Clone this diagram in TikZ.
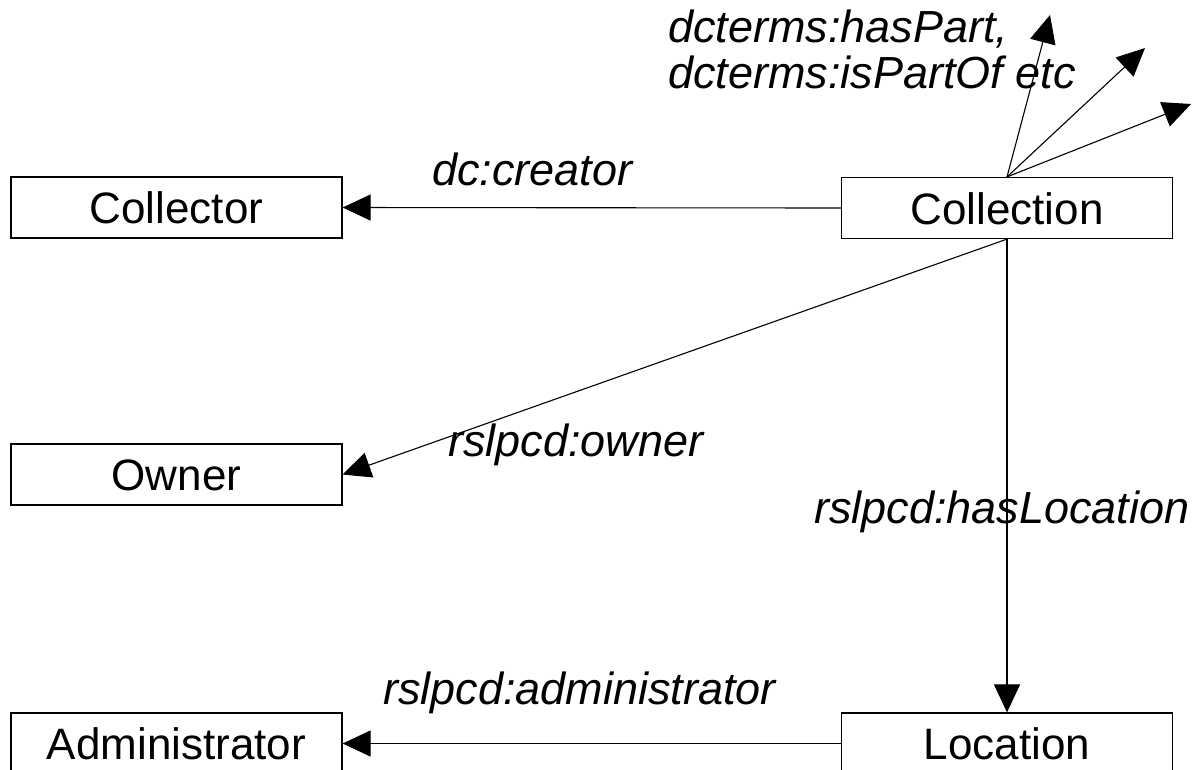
\documentclass[tikz,border=0pt]{standalone}
\usepackage{fontspec}
\setmainfont{Liberation Sans}
\usetikzlibrary{arrows.meta}
\begin{document}
\begin{tikzpicture}[x=1pt,y=-1pt,
  entity/.style={draw, line width=1.2pt, minimum width=331pt, minimum height=61pt,
    inner sep=0pt, text height=32pt, text depth=0pt, font=\fontsize{44}{50}\selectfont},
  rel/.style={line width=1.1pt, -{Triangle[length=28pt,width=26pt]}},
  lab/.style={anchor=base west, inner sep=0pt, font=\fontsize{45}{45}\selectfont\itshape}]
\useasboundingbox (0,0) rectangle (1196,769);
\clip (0,0) rectangle (1196,769);

% entities
\node[entity] (collector) at (176.5,207.5) {Collector};
\node[entity] (owner)     at (176.5,474.5) {Owner};
\node[entity] (admin)     at (176.5,743.5) {Administrator};
\node[entity] (collection) at (1007,208) {Collection};
\node[entity] (location)  at (1007,743.5) {Location};

% free ends of the part-of fan
\coordinate (fanA) at (1050,15);
\coordinate (fanB) at (1145,48);
\coordinate (fanC) at (1191,104);

% relations
\draw[rel] (collection.west) -- (collector.east);
\draw[rel] (collection.south) -- (owner.east);
\draw[rel] (collection.south) -- (location.north);
\draw[rel] (location.west) -- (admin.east);
\draw[rel] (collection.north) -- (fanA);
\draw[rel] (collection.north) -- (fanB);
\draw[rel] (collection.north) -- (fanC);

% relation labels
\node[lab] (lcreator) at (432,185) {dc:creator};
\node[lab] (lowner) at (448,456) {rslpcd:owner};
\node[lab] (lloc) at (814,523) {rslpcd:hasLocation};
\node[lab] (ladmin) at (383,704) {rslpcd:administrator};
\node[lab] (lpart1) at (668,42) {dcterms:hasPart,};
\node[lab] (lpart2) at (668,88) {dcterms:isPartOf etc};
\end{tikzpicture}
\end{document}
